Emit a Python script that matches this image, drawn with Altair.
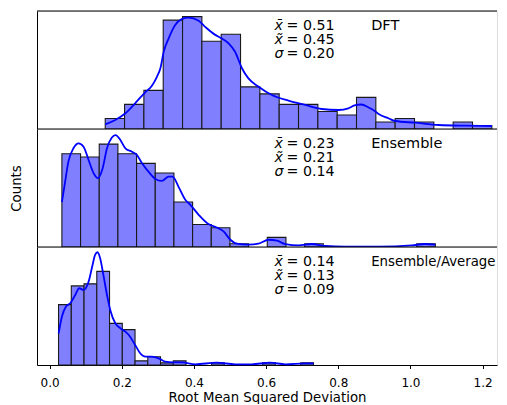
import altair as alt
import numpy as np
import pandas as pd

# ---------------- data ----------------
x_ticks = [0.0, 0.2, 0.4, 0.6, 0.8, 1.0, 1.2]

dft_range = [0.1541, 1.2256]
dft_counts = [3, 7, 11, 31, 32, 25, 27, 12, 10, 7, 7, 5, 4, 9, 2, 3, 2, 0, 2, 1]
dft_kde_x = [0.154, 0.182, 0.210, 0.237, 0.265, 0.283, 0.297, 0.307, 0.316, 0.330, 0.348, 0.366,
             0.385, 0.413, 0.431, 0.459, 0.477, 0.496, 0.514, 0.533, 0.551, 0.579, 0.616, 0.662,
             0.708, 0.754, 0.801, 0.828, 0.845, 0.864, 0.884, 0.901, 0.912, 0.940, 0.958, 1.013,
             1.078, 1.152, 1.226]
dft_kde_y = [1.34, 2.56, 4.47, 7.32, 10.46, 12.25, 14.8, 17.3, 21.9, 25.8, 29.6, 31.3,
             31.7, 30.8, 29.1, 26.8, 25.8, 24.4, 22.0, 17.3, 14.4, 12.05, 9.69, 8.06,
             6.84, 5.70, 5.41, 5.90, 6.70, 6.98, 6.13, 5.13, 4.27, 2.99, 2.28, 1.79,
             1.14, 0.94, 0.85]

ens_range = [0.034, 1.069]
ens_counts = [29, 28, 32, 29, 26, 23, 14, 7, 6, 1, 0, 3, 0, 1, 0, 0, 0, 0, 0, 1]
ens_kde_x = [0.034, 0.043, 0.052, 0.066, 0.080, 0.094, 0.108, 0.122, 0.134, 0.147, 0.159, 0.172,
             0.183, 0.196, 0.210, 0.228, 0.242, 0.256, 0.274, 0.293, 0.311, 0.330, 0.341, 0.357,
             0.376, 0.390, 0.413, 0.440, 0.463, 0.482, 0.501, 0.519, 0.551, 0.579, 0.607, 0.630,
             0.653, 0.690, 0.727, 0.764, 0.819, 0.912, 1.004, 1.041, 1.069]
ens_kde_y = [13.95, 20.34, 26.54, 30.70, 32.25, 31.19, 27.07, 22.95, 21.40, 24.50, 30.70, 33.98,
             34.82, 33.27, 30.70, 29.64, 28.62, 26.05, 23.44, 21.18, 20.56, 21.89, 21.89, 18.79,
             14.67, 13.12, 10.02, 7.13, 6.08, 4.84, 2.26, 1.02, 0.71, 1.02, 2.26, 1.95,
             0.93, 0.50, 0.93, 0.31, 0.09, 0.09, 0.50, 0.93, 0.71]

avg_range = [0.0247, 0.7314]
avg_counts = [29, 38, 39, 45, 20, 17, 2, 4, 1, 2, 0, 0, 1, 0, 0, 0, 1, 0, 0, 1]
avg_kde_x = [0.025, 0.034, 0.045, 0.057, 0.071, 0.082, 0.094, 0.108, 0.119, 0.126, 0.133, 0.140,
             0.149, 0.159, 0.168, 0.182, 0.196, 0.210, 0.223, 0.237, 0.251, 0.265, 0.283, 0.302,
             0.320, 0.343, 0.366, 0.404, 0.463, 0.514, 0.560, 0.611, 0.653, 0.708, 0.731]
avg_kde_y = [15.24, 23.22, 28.03, 29.66, 33.65, 36.88, 36.06, 40.05, 48.08, 52.88, 54.18, 51.30,
             43.27, 33.65, 26.44, 20.05, 17.64, 16.01, 13.61, 9.62, 5.63, 3.99, 3.99, 3.22,
             1.59, 1.30, 1.30, 0.34, 1.11, 0.34, 0.34, 1.11, 0.34, 0.82, 0.82]

labels = ["DFT", "Ensemble", "Ensemble/Average"]
label_sizes = [14.5, 14.5, 13.3]
means = ["0.51", "0.23", "0.14"]
medians = ["0.45", "0.21", "0.13"]
stds = ["0.20", "0.14", "0.09"]
y_max = [33.6, 36.7, 56.7]

# ---------------- layout constants ----------------
W = 460
H = 118
PX_PER_UNIT = 360.8
X_DOMAIN = [-0.035, -0.035 + W / PX_PER_UNIT]
FONT = "DejaVu Sans"
FS = 14.2
SYM_X = 237.5
VAL_X = 249.5
LBL_X = 334.2
BASE_Y = 18.8
LINE_H = 13.9


def panel(rng, counts, kx, ky, ymax, label, lsize, mean, med, std, bottom=False,
          ytitle_color="transparent"):
    edges = np.linspace(rng[0], rng[1], len(counts) + 1)
    bars = pd.DataFrame({"x0": edges[:-1], "x1": edges[1:], "count": counts})
    bars = bars[bars["count"] > 0]
    kde = pd.DataFrame({"x": kx, "y": ky})

    xscale = alt.Scale(domain=X_DOMAIN, nice=False, zero=False)
    yscale = alt.Scale(domain=[0, ymax], nice=False, zero=True)

    if bottom:
        xaxis = alt.Axis(values=x_ticks, format=".1f", tickSize=3.5, tickColor="black", tickWidth=1,
                         labelFontSize=12, labelFont=FONT, labelColor="black", labelPadding=8.5,
                         domainColor="black", domainWidth=1, grid=False,
                         title="Root Mean Squared Deviation", titleFont=FONT, titleFontSize=13.3,
                         titleFontWeight="normal", titleColor="black", titlePadding=2)
    else:
        xaxis = alt.Axis(labels=False, ticks=False, title=None, grid=False, domain=False)
    yaxis = alt.Axis(labels=False, ticks=False, grid=False, domainColor="black", domainWidth=1,
                     title="Counts", titleFont=FONT, titleFontSize=13.3, titleFontWeight="normal",
                     titleColor=ytitle_color, titlePadding=14)

    rect = alt.Chart(bars).mark_rect(fill="#8080ff", stroke="#1a1a1a", strokeWidth=1.1).encode(
        x=alt.X("x0:Q", scale=xscale, axis=xaxis),
        x2="x1:Q",
        y=alt.Y("count:Q", scale=yscale, axis=yaxis),
        y2=alt.datum(0),
    )
    line = alt.Chart(kde).mark_line(color="#0000ff", strokeWidth=1.8, interpolate="monotone").encode(
        x="x:Q", y="y:Q"
    )
    one = pd.DataFrame({"a": [0]})
    syms = alt.Chart(one).mark_text(align="left", baseline="alphabetic", font=FONT, fontSize=FS,
                                    fontStyle="italic", color="black", lineHeight=LINE_H).encode(
        x=alt.value(SYM_X), y=alt.value(BASE_Y), text=alt.value(["x\u0304", "x\u0303", "\u03c3"]))
    vals = alt.Chart(one).mark_text(align="left", baseline="alphabetic", font=FONT, fontSize=FS,
                                    color="black", lineHeight=LINE_H).encode(
        x=alt.value(VAL_X), y=alt.value(BASE_Y),
        text=alt.value(["=  " + mean, "=  " + med, "=  " + std]))
    lbl = alt.Chart(one).mark_text(align="left", baseline="alphabetic", font=FONT, fontSize=lsize,
                                   color="black").encode(
        x=alt.value(LBL_X), y=alt.value(BASE_Y), text=alt.value(label))
    spine = alt.Chart(one).mark_rule(color="black", strokeWidth=1).encode(
        x=alt.value(0), x2=alt.value(W), y=alt.value(0))
    return alt.layer(rect, line, syms, vals, lbl, spine).properties(width=W, height=H)


p1 = panel(dft_range, dft_counts, dft_kde_x, dft_kde_y, y_max[0], labels[0], label_sizes[0],
           means[0], medians[0], stds[0])
p2 = panel(ens_range, ens_counts, ens_kde_x, ens_kde_y, y_max[1], labels[1], label_sizes[1],
           means[1], medians[1], stds[1], ytitle_color="black")
p3 = panel(avg_range, avg_counts, avg_kde_x, avg_kde_y, y_max[2], labels[2], label_sizes[2],
           means[2], medians[2], stds[2], bottom=True)

chart = alt.vconcat(p1, p2, p3, spacing=0, bounds="flush").resolve_scale(y="independent").properties(
    padding={"left": 0, "top": 2, "right": 0, "bottom": 0}
).configure_view(stroke=None).configure(font=FONT, background="white")

chart.save("out.html", embed_options={"renderer": "svg", "actions": False})
